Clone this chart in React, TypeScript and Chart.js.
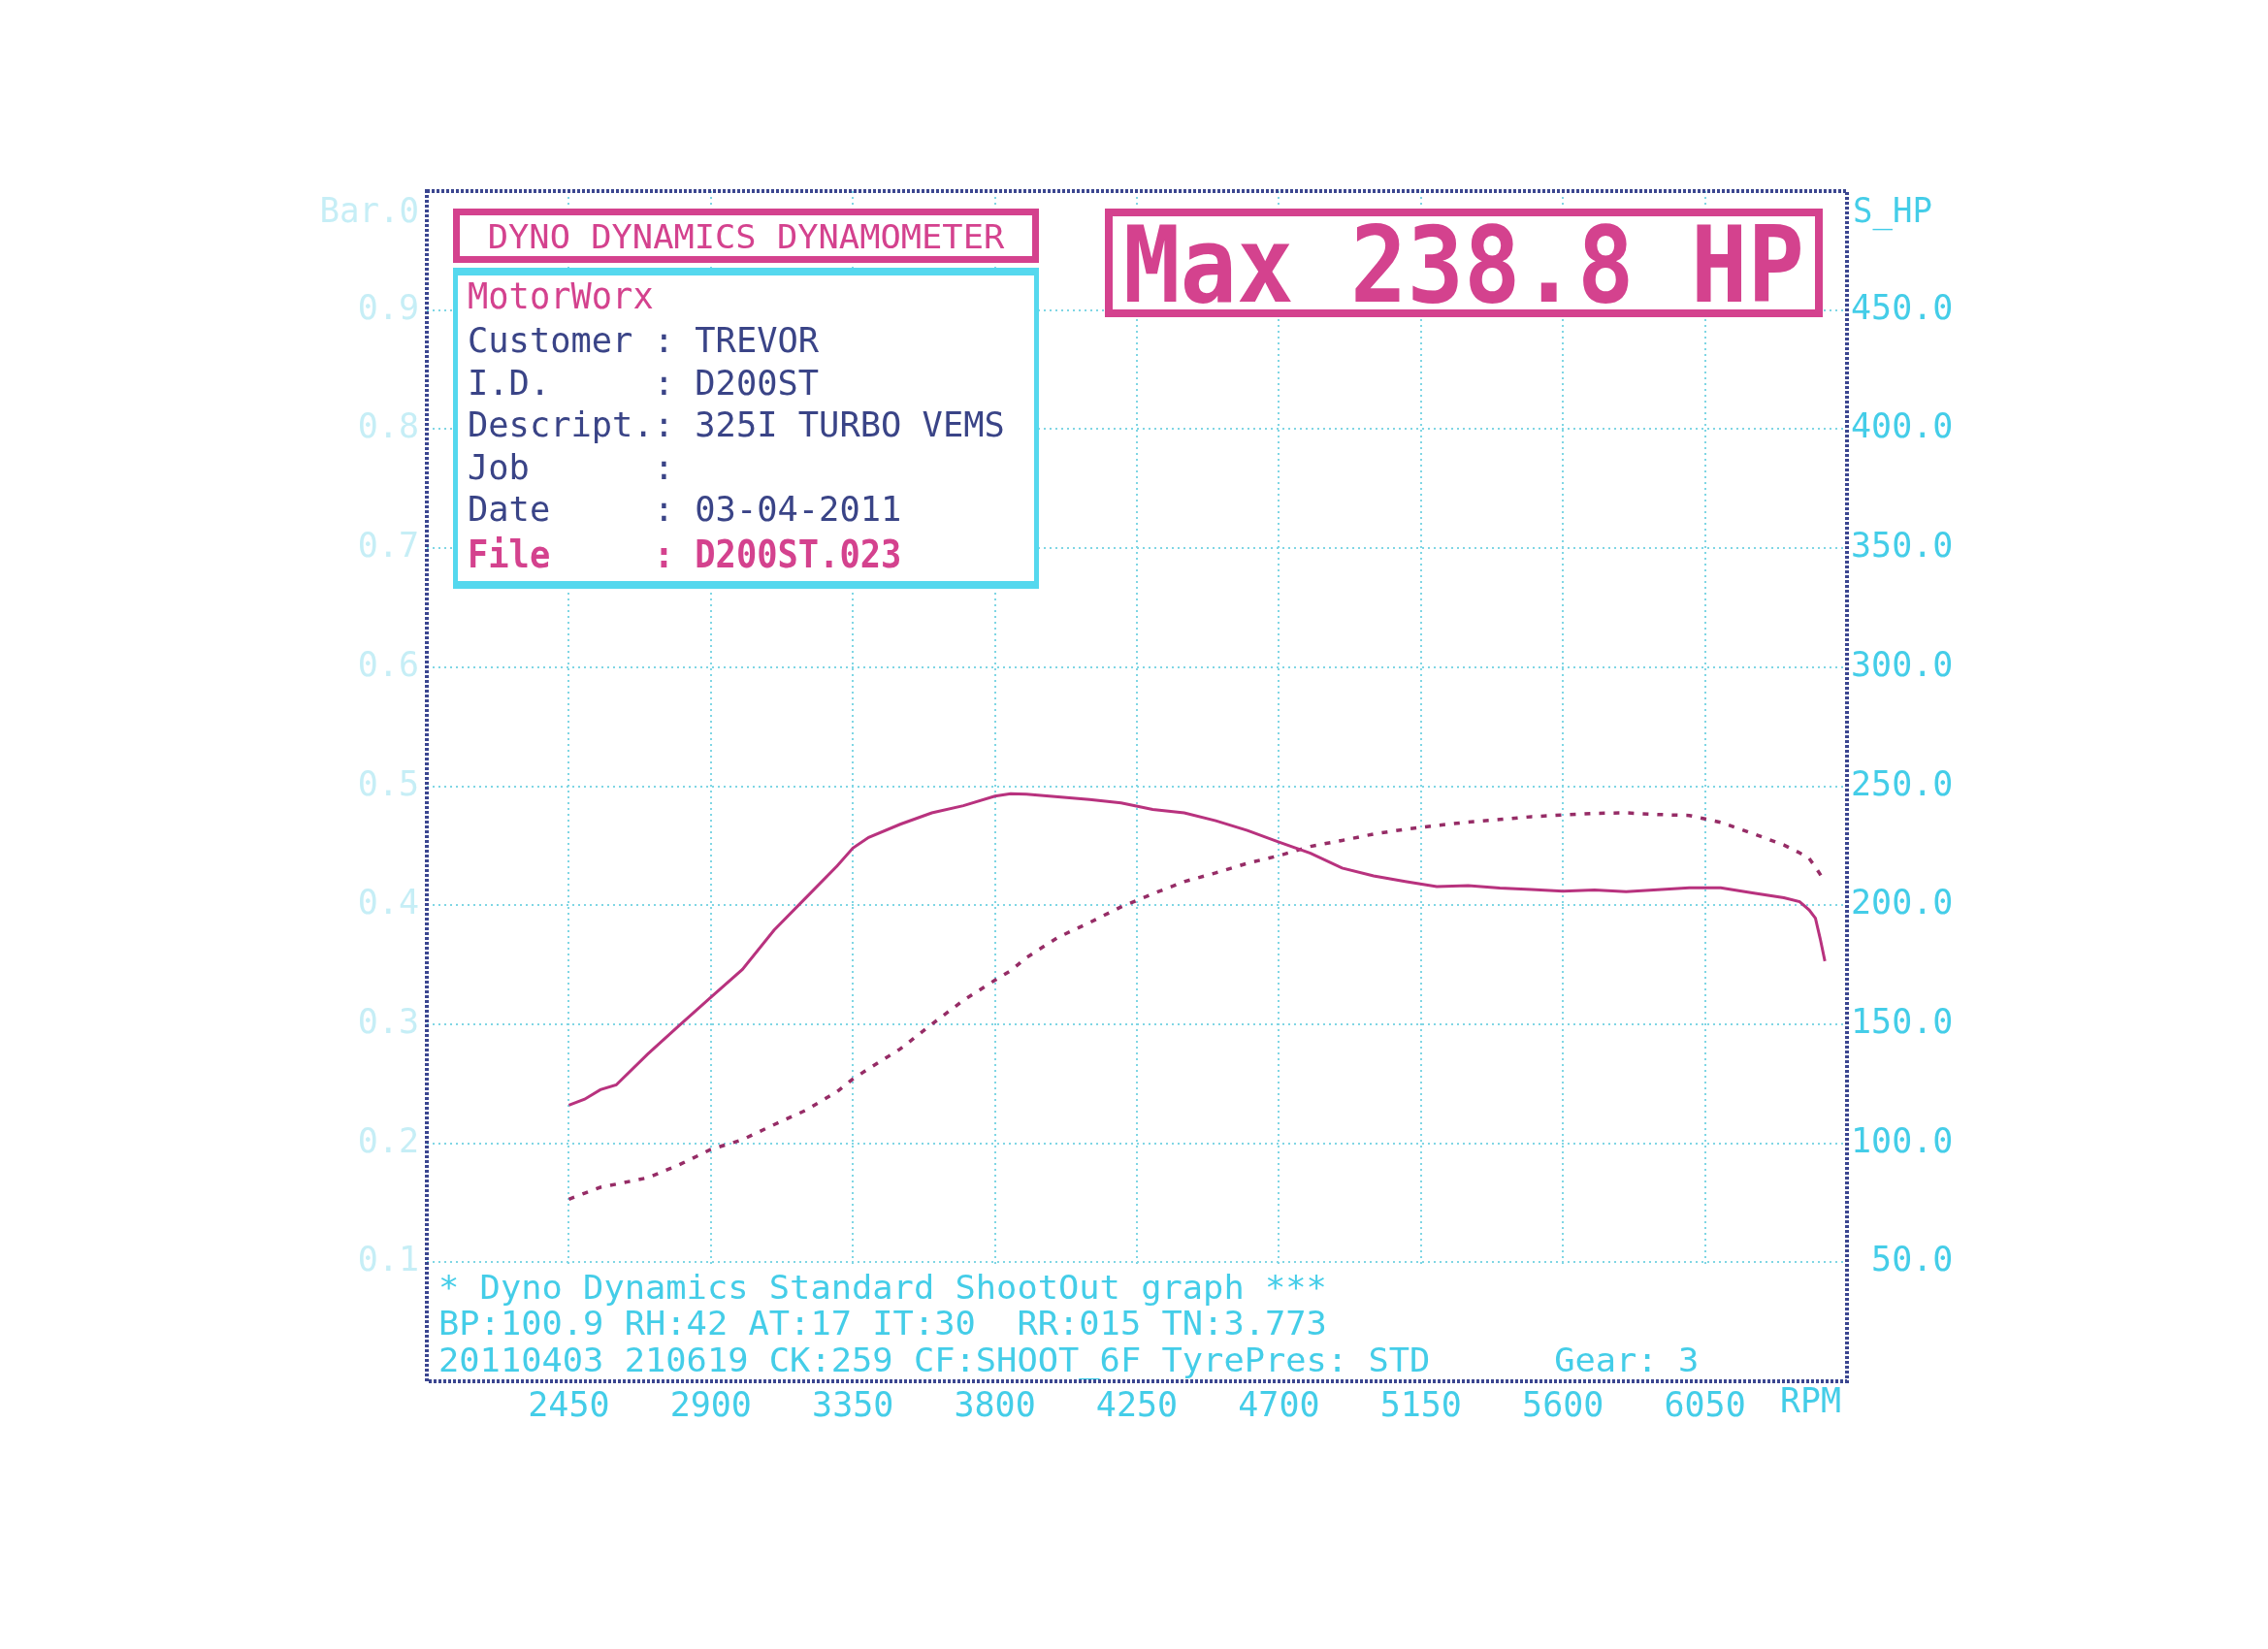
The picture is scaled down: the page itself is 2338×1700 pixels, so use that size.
import React, { useEffect, useRef } from "react";
import { Chart, registerables } from "chart.js";

Chart.register(...registerables);

// ---- data read from the dyno sheet ----
const rpm = [
  2450, 2500, 2550, 2600, 2700, 2800, 2900, 3000, 3100, 3200, 3300, 3350,
  3400, 3500, 3600, 3700, 3800, 3850, 3900, 4000, 4100, 4200, 4300, 4400,
  4500, 4600, 4700, 4800, 4900, 5000, 5100, 5200, 5300, 5400, 5500, 5600,
  5700, 5800, 5900, 6000, 6100, 6200, 6300, 6350, 6380, 6400, 6415, 6430,
];
// solid trace
const effortHp = [
  116, 118.5, 122.5, 124.5, 137.5, 149.5, 161.3, 173, 189.5, 203, 216.5, 224,
  228.5, 234, 238.8, 241.8, 245.8, 246.8, 246.6, 245.5, 244.4, 243, 240.2, 238.8,
  235.5, 231.4, 226.5, 221.8, 215.6, 212.3, 210, 207.8, 208.2, 207.2, 206.6, 205.9,
  206.4, 205.7, 206.5, 207.3, 207.3, 205.2, 203.1, 201.5, 198, 194.5, 186, 176.5,
];
// dotted trace (power)
const powerHp = [
  76.5, 79, 81.5, 82.8, 85.5, 91, 97.4, 101.5, 107.8, 113.8, 121.7, 127,
  131.3, 139.6, 150, 160, 168.5, 172.5, 178, 186.5, 192.7, 199.3, 204.8, 209.9,
  213.6, 217.6, 220.8, 224.7, 227.2, 229.9, 231.9, 233.5, 234.9, 236, 237.2, 237.9,
  238.6, 238.8, 238.1, 237.7, 234.8, 230.2, 225.3, 222, 219.7, 216, 213, 209.5,
];

const rpmTicks = [2450, 2900, 3350, 3800, 4250, 4700, 5150, 5600, 6050];
const hpTicks = [50, 100, 150, 200, 250, 300, 350, 400, 450];
const barTicks = [0.1, 0.2, 0.3, 0.4, 0.5, 0.6, 0.7, 0.8, 0.9];

const titleText = "DYNO DYNAMICS DYNAMOMETER";
const maxText = "Max 238.8 HP";
const shopName = "MotorWorx";
const infoLines = [
  "Customer : TREVOR",
  "I.D.     : D200ST",
  "Descript.: 325I TURBO VEMS",
  "Job      :",
  "Date     : 03-04-2011",
];
const fileLine = "File     : D200ST.023";
const footerLines = [
  "* Dyno Dynamics Standard ShootOut graph ***",
  "BP:100.9 RH:42 AT:17 IT:30  RR:015 TN:3.773",
  "20110403 210619 CK:259 CF:SHOOT_6F TyrePres: STD      Gear: 3",
];

// ---- styling ----
const W = 2338;
const H = 1700;
const MONO = '"DejaVu Sans Mono", "Liberation Mono", monospace';
const MAGENTA = "#d4428e";
const CYAN = "#44cde8";
const CYAN_BOX = "#55d8ee";
const NAVY = "#3a4487";
const FAINT = "#c6eef6";
const GRID = "#7fd6e4";
const BORDER = "#3b4690";

function drawMono(
  ctx: CanvasRenderingContext2D,
  text: string,
  x: number,
  yc: number,
  charW: number,
  capH: number,
  color: string,
  weight = "normal",
  align: "left" | "center" | "right" = "left"
) {
  const size = capH / 0.729;
  ctx.save();
  ctx.font = `${weight} ${size}px ${MONO}`;
  ctx.fillStyle = color;
  ctx.textBaseline = "alphabetic";
  ctx.textAlign = "left";
  const natural = ctx.measureText("M").width || size * 0.6;
  const sx = charW / natural;
  const total = text.length * charW;
  let x0 = x;
  if (align === "center") x0 = x - total / 2;
  if (align === "right") x0 = x - total;
  ctx.translate(x0, yc + capH / 2);
  ctx.scale(sx, 1);
  ctx.fillText(text, 0, 0);
  ctx.restore();
}

const decor = {
  id: "dynoDecor",
  beforeDatasetsDraw(chart: any) {
    const { ctx, chartArea: a, scales } = chart;
    const y50 = scales.y.getPixelForValue(50);
    ctx.save();
    ctx.fillStyle = "#ffffff";
    ctx.fillRect(a.left + 2, y50 + 2, a.right - a.left - 4, a.bottom - y50 - 2);
    ctx.restore();
    footerLines.forEach((t, i) =>
      drawMono(ctx, t, a.left + 12, y50 + 25 + i * 37.5, 21.3, 25, CYAN)
    );
  },
  afterDraw(chart: any) {
    const { ctx, chartArea: a, scales } = chart;
    const L = a.left;
    const T = a.top;

    // title box
    ctx.save();
    ctx.fillStyle = "#ffffff";
    ctx.fillRect(L + 27, T + 18, 604, 56);
    ctx.strokeStyle = MAGENTA;
    ctx.lineWidth = 7;
    ctx.strokeRect(L + 27 + 3.5, T + 18 + 3.5, 604 - 7, 56 - 7);
    ctx.restore();
    drawMono(ctx, titleText, L + 27 + 302, T + 46, 21.3, 25, MAGENTA, "normal", "center");

    // info box
    ctx.save();
    ctx.fillStyle = "#ffffff";
    ctx.fillRect(L + 27, T + 79, 604, 331);
    ctx.fillStyle = CYAN_BOX;
    ctx.fillRect(L + 27, T + 79, 604, 8);
    ctx.fillRect(L + 27, T + 79 + 331 - 8, 604, 8);
    ctx.fillRect(L + 27, T + 79, 5, 331);
    ctx.fillRect(L + 27 + 604 - 5, T + 79, 5, 331);
    ctx.restore();
    drawMono(ctx, shopName, L + 42, T + 107, 21.3, 27, MAGENTA);
    infoLines.forEach((t, i) =>
      drawMono(ctx, t, L + 42, T + 153 + i * 43.5, 21.3, 26, NAVY)
    );
    drawMono(ctx, fileLine, L + 42, T + 374, 21.3, 28, MAGENTA, "bold");

    // max box
    ctx.save();
    ctx.fillStyle = "#ffffff";
    ctx.fillRect(L + 699, T + 18, 740, 112);
    ctx.strokeStyle = MAGENTA;
    ctx.lineWidth = 8;
    ctx.strokeRect(L + 699 + 4, T + 18 + 4, 740 - 8, 112 - 8);
    ctx.restore();
    drawMono(ctx, maxText, L + 699 + 370, T + 74, 58.5, 79, MAGENTA, "bold", "center");

    // plot frame
    ctx.save();
    ctx.strokeStyle = BORDER;
    ctx.lineWidth = 4;
    ctx.setLineDash([3, 2]);
    ctx.strokeRect(a.left, a.top, a.right - a.left, a.bottom - a.top);
    ctx.restore();

    // axis end labels
    const yTop = scales.y.getPixelForValue(500);
    drawMono(ctx, "S_HP", a.right + 6, yTop + 19, 20.5, 26, CYAN);
    drawMono(ctx, "Bar.0", a.left - 8, yTop + 19, 20.5, 26, FAINT, "normal", "right");
    drawMono(ctx, "RPM", a.right - 6, a.bottom + 19, 21, 26, CYAN, "normal", "right");
  },
};

export default function App() {
  const ref = useRef<HTMLCanvasElement | null>(null);

  useEffect(() => {
    if (!ref.current) return;
    const tickFont = { family: MONO, size: 35 };
    const chart = new Chart(ref.current, {
      type: "line",
      data: {
        datasets: [
          {
            label: "Effort",
            data: rpm.map((r, i) => ({ x: r, y: effortHp[i] })),
            borderColor: "#b8327e",
            borderWidth: 3,
            pointRadius: 0,
            tension: 0,
            yAxisID: "y",
          },
          {
            label: "S_HP",
            data: rpm.map((r, i) => ({ x: r, y: powerHp[i] })),
            borderColor: "#962c66",
            borderWidth: 3.5,
            borderDash: [6, 9],
            pointRadius: 0,
            tension: 0,
            yAxisID: "y",
          },
        ],
      },
      options: {
        responsive: false,
        devicePixelRatio: 1,
        animation: false,
        layout: { padding: { top: 197, left: 0, right: 0, bottom: 0 } },
        plugins: { legend: { display: false }, tooltip: { enabled: false } },
        scales: {
          x: {
            type: "linear",
            position: "bottom",
            min: 2000,
            max: 6500,
            afterBuildTicks: (s: any) => {
              s.ticks = rpmTicks.map((v) => ({ value: v }));
            },
            afterFit: (s: any) => {
              s.height = 276;
            },
            grid: { color: GRID, lineWidth: 2, drawTicks: false },
            border: { display: false, dash: [2, 4] },
            ticks: {
              color: CYAN,
              font: tickFont,
              padding: 6,
              maxRotation: 0,
              autoSkip: false,
              callback: (v: any) => String(v),
            },
          },
          yBar: {
            type: "linear",
            position: "left",
            min: 0,
            max: 1,
            afterBuildTicks: (s: any) => {
              s.ticks = barTicks.map((v) => ({ value: v }));
            },
            afterFit: (s: any) => {
              s.width = 440;
            },
            grid: { display: false, drawTicks: false },
            border: { display: false },
            ticks: {
              color: FAINT,
              font: tickFont,
              padding: 8,
              callback: (v: any) => Number(v).toFixed(1),
            },
          },
          y: {
            type: "linear",
            position: "right",
            min: 0,
            max: 500,
            afterBuildTicks: (s: any) => {
              s.ticks = hpTicks.map((v) => ({ value: v }));
            },
            afterFit: (s: any) => {
              s.width = 434;
            },
            grid: { color: GRID, lineWidth: 2, drawTicks: false },
            border: { display: false, dash: [2, 4] },
            ticks: {
              color: CYAN,
              font: tickFont,
              padding: 4,
              crossAlign: "near",
              callback: (v: any) => Number(v).toFixed(1).padStart(5, " "),
            },
          },
        },
      },
      plugins: [decor],
    } as any);
    return () => chart.destroy();
  }, []);

  return (
    <div style={{ position: "absolute", left: 0, top: 0, width: W, height: H, background: "#ffffff" }}>
      <canvas ref={ref} width={W} height={H} style={{ display: "block", width: W, height: H }} />
    </div>
  );
}
